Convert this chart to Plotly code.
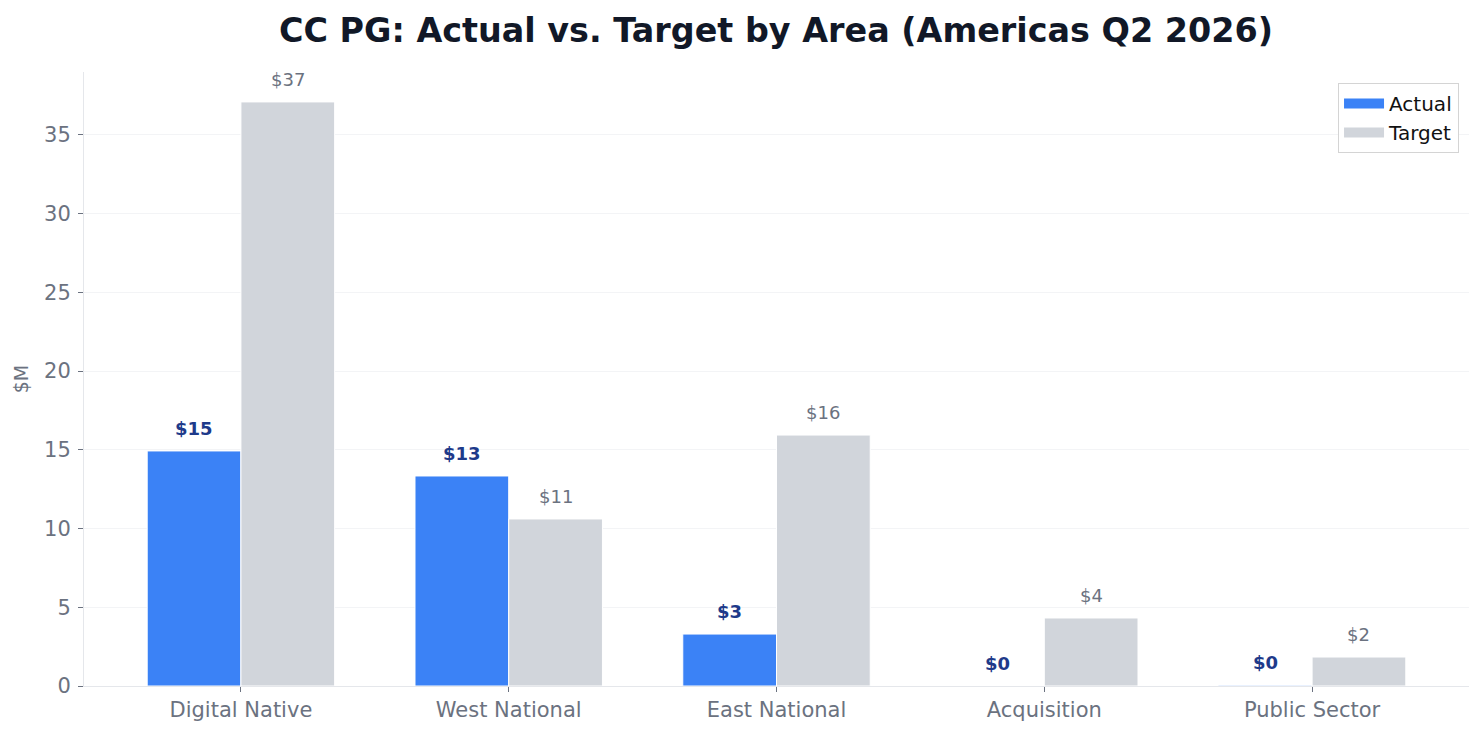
import plotly.graph_objects as go

categories = ["Digital Native", "West National", "East National", "Acquisition", "Public Sector"]
actual = [14.93, 13.34, 3.30, 0.0, 0.05]
target = [37.1, 10.61, 15.94, 4.32, 1.84]
actual_labels = ["$15", "$13", "$3", "$0", "$0"]
target_labels = ["$37", "$11", "$16", "$4", "$2"]

FONT = "DejaVu Sans"
BLUE = "#3b82f6"
GRAY = "#d1d5db"
DARKBLUE = "#1e3a8a"
TXTGRAY = "#6b7280"

idx = list(range(len(categories)))
w = 0.35

fig = go.Figure()
fig.add_trace(go.Bar(x=[i - w / 2 for i in idx], y=actual, width=w, name="Actual", showlegend=False,
                     marker=dict(color=BLUE, line=dict(color="white", width=1))))
fig.add_trace(go.Bar(x=[i + w / 2 for i in idx], y=target, width=w, name="Target", showlegend=False,
                     marker=dict(color=GRAY, line=dict(color="white", width=1))))
# legend entries (wide rectangular patches)
fig.add_trace(go.Scatter(x=[None], y=[None], mode="lines", name="Actual",
                         line=dict(color=BLUE, width=14)))
fig.add_trace(go.Scatter(x=[None], y=[None], mode="lines", name="Target",
                         line=dict(color=GRAY, width=14)))

for i in idx:
    fig.add_annotation(x=i - w / 2, y=actual[i], text="<b>" + actual_labels[i] + "</b>",
                       showarrow=False, yanchor="bottom", yshift=10,
                       font=dict(family=FONT, size=18, color=DARKBLUE))
    fig.add_annotation(x=i + w / 2, y=target[i], text=target_labels[i],
                       showarrow=False, yanchor="bottom", yshift=10,
                       font=dict(family=FONT, size=18, color=TXTGRAY))

fig.update_layout(
    width=1484, height=736,
    paper_bgcolor="white", plot_bgcolor="white",
    margin=dict(l=76, r=23, t=64, b=58),
    title=dict(text="<b>CC PG: Actual vs. Target by Area (Americas Q2 2026)</b>",
               x=0.5175, xanchor="center", y=0.970, yanchor="middle",
               font=dict(family=FONT, size=33.4, color="#111827")),
    font=dict(family=FONT, size=20, color=TXTGRAY),
    showlegend=True,
    legend=dict(x=0.9928, xanchor="right", y=0.982, yanchor="top",
                bgcolor="white", bordercolor="#d4d4d4", borderwidth=1,
                font=dict(family=FONT, size=20, color="#111111"),
                itemwidth=40),
    bargap=0.3,
)
fig.update_xaxes(range=[-0.586, 4.586], tickmode="array", tickvals=idx, ticktext=categories,
                 showgrid=False, zeroline=False, showline=True, linecolor="#e5e7eb", linewidth=1,
                 ticks="outside", ticklen=5, tickcolor="#6b7280",
                 tickfont=dict(family=FONT, size=21, color=TXTGRAY))
fig.update_yaxes(range=[0, 39.0], dtick=5, showgrid=True, gridcolor="#f3f4f6", gridwidth=1,
                 zeroline=False, showline=True, linecolor="#e5e7eb", linewidth=1,
                 ticks="outside", ticklen=5, tickcolor="#6b7280", ticklabelstandoff=3,
                 tickfont=dict(family=FONT, size=21, color=TXTGRAY),
                 title=dict(text="$M", font=dict(family=FONT, size=19, color=TXTGRAY), standoff=10))

fig.write_html("out.html")
